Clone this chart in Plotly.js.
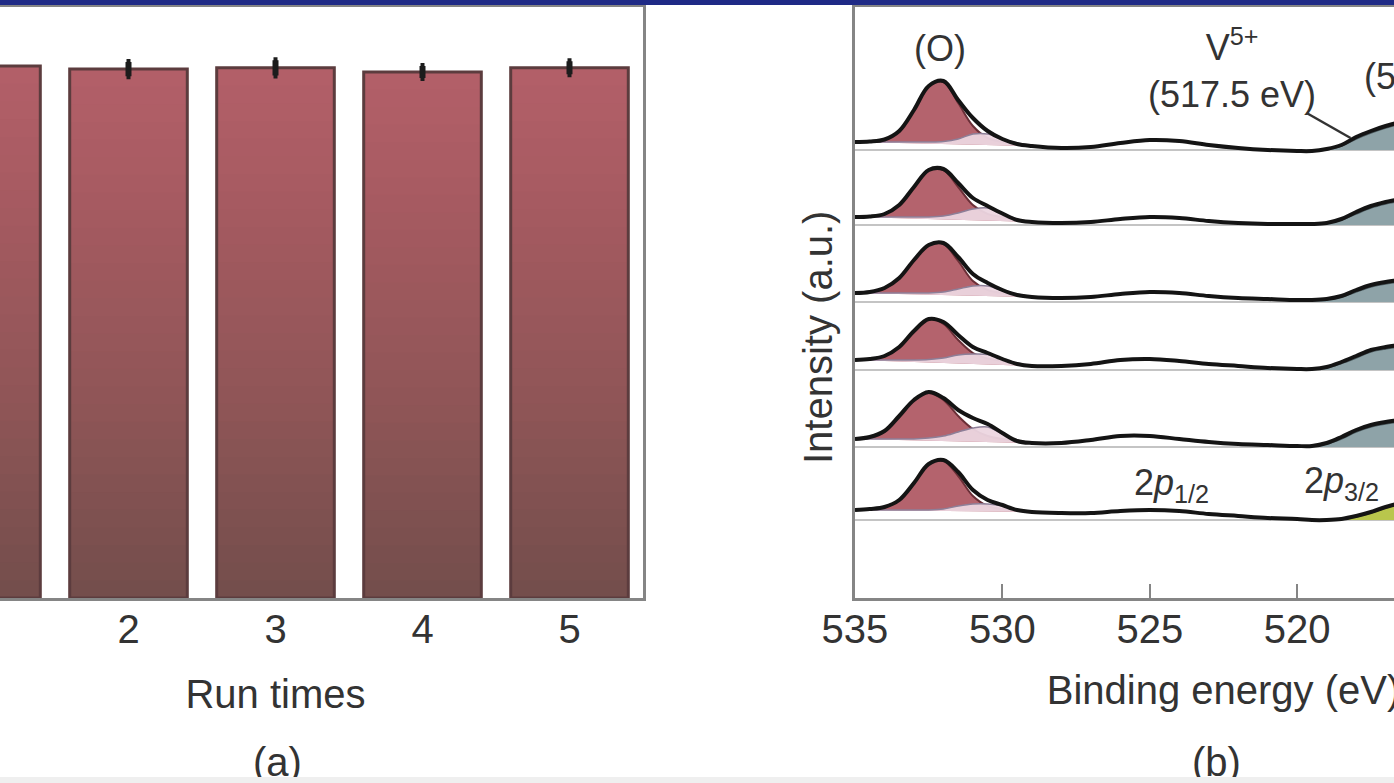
<!DOCTYPE html>
<html>
<head>
<meta charset="utf-8">
<script src="https://cdn.plot.ly/plotly-3.0.1.min.js"></script>
<style>
  html, body { margin: 0; padding: 0; overflow: hidden; background: #ffffff; width: 1394px; height: 783px; }
  #topbar { position: absolute; left: 0; top: 0; width: 1394px; height: 5px; background: #1f2a86; z-index: 5; }
  #bottombar { position: absolute; left: 0; top: 777px; width: 1394px; height: 6px; background: #efefef; z-index: 5; }
  #chart { position: absolute; left: -200px; top: 0; width: 1832px; height: 783px; }
</style>
</head>
<body>
<div id="topbar"></div>
<div id="chart"></div>
<div id="bottombar"></div>
<script>
// ---------------- Panel (a): stability over repeated runs ----------------
const runTimes = [1, 2, 3, 4, 5];
const efficiency = [90.0, 89.5, 89.7, 89.0, 89.7];      // %
const efficiencyErr = [1.0, 1.2, 1.3, 1.0, 1.1];

// ---------------- Panel (b): XPS O 1s / V 2p spectra ----------------
const energy = [535, 534.5, 534, 533.5, 533, 532.5, 532, 531.5, 531, 530.5, 530, 529.5, 529,
                528, 527, 526, 525, 524, 523, 522, 521, 520, 519.5, 519, 518.5, 518, 517.5, 517, 516.5];
const oEnergy = [535, 534.5, 534, 533.5, 533, 532.5, 532, 531.5, 531, 530.5, 530, 529.5, 529];
const vEnergy = [519.5, 519, 518.5, 518, 517.5, 517, 516.5];

// vertical offsets of the stacked spectra (a.u.)
const offsets = [45.6, 38.1, 30.5, 23.8, 15.9, 8.8];
// background line level relative to each offset
const bgLevels = [-0.8, -0.8, -0.9, -1.0, -0.8, -1.0];

const envelope1 = [0, 0.05, 0.25, 1.1, 3.2, 5.6, 6.1, 4.2, 2.4, 1.1, 0.3, -0.2, -0.4, -0.6, -0.5, -0.1, 0.2, 0.1, -0.3, -0.6, -0.8, -0.9, -0.9, -0.7, -0.3, 0.5, 1.1, 1.6, 2.0];
const envelope2 = [0, 0.05, 0.3, 1.2, 3.0, 4.7, 4.8, 3.4, 1.9, 1.1, 0.35, -0.3, -0.5, -0.6, -0.5, -0.2, 0, -0.1, -0.4, -0.6, -0.7, -0.7, -0.7, -0.6, -0.2, 0.5, 1.1, 1.5, 1.8];
const envelope3 = [0, 0.1, 0.5, 1.5, 3.3, 4.8, 5.0, 3.6, 1.9, 1.0, 0.3, -0.2, -0.4, -0.5, -0.4, -0.1, 0.1, 0, -0.3, -0.5, -0.6, -0.7, -0.7, -0.6, -0.3, 0.3, 0.8, 1.1, 1.3];
const envelope4 = [0, 0.1, 0.4, 1.3, 2.9, 4.1, 3.8, 2.5, 1.3, 0.7, 0.1, -0.4, -0.6, -0.6, -0.4, 0, 0.1, -0.1, -0.4, -0.6, -0.8, -0.9, -0.9, -0.7, -0.2, 0.4, 1.0, 1.3, 1.5];
const envelope5 = [0, 0.2, 0.8, 2.3, 3.9, 4.7, 4.1, 2.9, 2.1, 1.5, 0.6, -0.2, -0.4, -0.4, -0.1, 0.3, 0.3, 0, -0.3, -0.5, -0.6, -0.7, -0.7, -0.4, 0.2, 0.9, 1.4, 1.7, 1.9];
const envelope6 = [0, 0.1, 0.3, 1.0, 2.7, 4.6, 5.0, 3.8, 2.0, 1.0, 0.5, 0, -0.2, -0.3, -0.3, -0.1, 0, -0.1, -0.4, -0.6, -0.8, -0.9, -1.0, -1.0, -0.9, -0.6, -0.2, 0.3, 0.7];

const oMain1 = [0, 0.05, 0.25, 1.1, 3.2, 5.6, 6.0, 3.9, 1.6, 0.4, 0.0, -0.2, -0.4];
const oMain2 = [0, 0.05, 0.3, 1.2, 3.0, 4.7, 4.7, 3.0, 1.2, 0.3, 0.0, -0.3, -0.5];
const oMain3 = [0, 0.1, 0.5, 1.5, 3.3, 4.8, 4.9, 3.2, 1.2, 0.3, 0.0, -0.2, -0.4];
const oMain4 = [0, 0.1, 0.4, 1.3, 2.9, 4.1, 3.6, 2.0, 0.7, 0.15, -0.1, -0.4, -0.6];
const oMain5 = [0, 0.2, 0.8, 2.3, 3.9, 4.6, 3.9, 2.3, 1.0, 0.3, 0.0, -0.2, -0.4];
const oMain6 = [0, 0.1, 0.3, 1.0, 2.7, 4.6, 4.9, 3.4, 1.4, 0.4, 0.1, 0, -0.2];

const oShoulder1 = [0, 0, 0, 0, 0, 0, 0.05, 0.3, 0.8, 0.8, 0.3, -0.1, -0.4];
const oShoulder2 = [0, 0, 0, 0, 0, 0, 0.1, 0.4, 0.8, 0.9, 0.35, -0.2, -0.5];
const oShoulder3 = [0, 0, 0, 0, 0, 0, 0.1, 0.4, 0.7, 0.7, 0.25, -0.1, -0.4];
const oShoulder4 = [0, 0, 0, 0, 0, 0.05, 0.2, 0.5, 0.6, 0.55, 0.1, -0.3, -0.6];
const oShoulder5 = [0, 0, 0, 0, 0, 0.1, 0.3, 0.7, 1.1, 1.2, 0.5, -0.1, -0.4];
const oShoulder6 = [0, 0, 0, 0, 0, 0, 0.1, 0.4, 0.6, 0.6, 0.4, 0, -0.2];

const vComp1 = [-0.9, -0.8, -0.4, 0.3, 0.9, 1.4, 1.8];
const vComp2 = [-0.7, -0.65, -0.3, 0.3, 0.9, 1.3, 1.6];
const vComp3 = [-0.7, -0.65, -0.4, 0.1, 0.6, 0.9, 1.1];
const vComp4 = [-0.9, -0.8, -0.35, 0.2, 0.8, 1.1, 1.3];
const vComp5 = [-0.7, -0.5, 0, 0.7, 1.2, 1.5, 1.7];
const vComp6 = [-1.0, -1.0, -0.95, -0.7, -0.3, 0.2, 0.6];

const envelopes = [envelope1, envelope2, envelope3, envelope4, envelope5, envelope6];
const oMains = [oMain1, oMain2, oMain3, oMain4, oMain5, oMain6];
const oShoulders = [oShoulder1, oShoulder2, oShoulder3, oShoulder4, oShoulder5, oShoulder6];
const vComps = [vComp1, vComp2, vComp3, vComp4, vComp5, vComp6];

// ---------------- styles ----------------
const FONT = 'Liberation Sans, Arial, Helvetica, sans-serif';
const TXT = '#333333';
const AXC = '#858585';
const gradStops = [[0, [116, 78, 76]], [0.35, [142, 85, 86]], [0.75, [166, 90, 97]], [1, [178, 95, 104]]];
function gradColor(t) {
  for (let i = 1; i < gradStops.length; i++) {
    if (t <= gradStops[i][0]) {
      const a = gradStops[i - 1], b = gradStops[i];
      const f = (t - a[0]) / (b[0] - a[0]);
      const c = a[1].map((v, j) => Math.round(v + (b[1][j] - v) * f));
      return 'rgb(' + c.join(',') + ')';
    }
  }
  return 'rgb(' + gradStops[gradStops.length - 1][1].join(',') + ')';
}

const traces = [];

// gradient bars: each layer starts higher up and reaches the bar's top value,
// so later (lighter) layers cover the earlier ones without seams
const nSeg = 30;
for (let k = 0; k < nSeg; k++) {
  traces.push({
    type: 'bar', xaxis: 'x', yaxis: 'y',
    x: runTimes,
    y: efficiency.map(v => v - v * k / nSeg),
    base: efficiency.map(v => v * k / nSeg),
    width: 0.8,
    marker: { color: gradColor(k / (nSeg - 1)), line: { width: 0 } },
    hoverinfo: 'skip', showlegend: false
  });
}
// bar outline + error bars
traces.push({
  type: 'bar', xaxis: 'x', yaxis: 'y',
  x: runTimes, y: efficiency, width: 0.8,
  marker: { color: 'rgba(0,0,0,0)', line: { color: '#5c3c3e', width: 3 } },
  error_y: { type: 'data', array: efficiencyErr, visible: true, color: '#1c1c1c', thickness: 6, width: 2 },
  showlegend: false
});

// spectra
for (let s = 0; s < 6; s++) {
  const off = offsets[s];
  const bg = off + bgLevels[s];
  traces.push({
    type: 'scatter', mode: 'lines', xaxis: 'x2', yaxis: 'y2',
    x: [energy[0], 510], y: [bg, bg],
    line: { color: '#c4c4c4', width: 2 }, hoverinfo: 'skip', showlegend: false
  });
  traces.push({
    type: 'scatter', mode: 'lines', xaxis: 'x2', yaxis: 'y2',
    x: oEnergy, y: oMains[s].map(v => off + v),
    fill: 'toself', fillcolor: '#b4636d',
    line: { color: '#6a2f37', width: 2, shape: 'spline', smoothing: 1 },
    hoverinfo: 'skip', showlegend: false
  });
  traces.push({
    type: 'scatter', mode: 'lines', xaxis: 'x2', yaxis: 'y2',
    x: oEnergy, y: oShoulders[s].map(v => off + v),
    fill: 'toself', fillcolor: 'rgba(236,214,224,0.95)',
    line: { color: '#8d7f98', width: 1.5, shape: 'spline', smoothing: 1 },
    hoverinfo: 'skip', showlegend: false
  });
  traces.push({
    type: 'scatter', mode: 'lines', xaxis: 'x2', yaxis: 'y2',
    x: vEnergy, y: vEnergy.map(() => bg),
    line: { width: 0, color: 'rgba(0,0,0,0)' }, hoverinfo: 'skip', showlegend: false
  });
  traces.push({
    type: 'scatter', mode: 'lines', xaxis: 'x2', yaxis: 'y2',
    x: vEnergy, y: vComps[s].map(v => off + v),
    fill: 'tonexty', fillcolor: s === 5 ? '#b9c64c' : '#8ea3a8',
    line: { color: s === 5 ? '#6f7a2a' : '#4f5f64', width: 1.5, shape: 'spline', smoothing: 1 },
    hoverinfo: 'skip', showlegend: false
  });
  traces.push({
    type: 'scatter', mode: 'lines', xaxis: 'x2', yaxis: 'y2',
    x: energy, y: envelopes[s].map(v => off + v),
    line: { color: '#141414', width: 4, shape: 'spline', smoothing: 1 },
    showlegend: false
  });
}

const annFont = { family: FONT, size: 36, color: TXT };
const layout = {
  width: 1832, height: 783,
  margin: { l: 108, r: 40, t: 7, b: 185 },
  paper_bgcolor: '#ffffff', plot_bgcolor: '#ffffff',
  barmode: 'overlay',
  showlegend: false,
  font: { family: FONT, size: 40, color: TXT },
  xaxis: {
    domain: [0, 0.43646], anchor: 'y', range: [0.5, 5.5],
    tickvals: runTimes, ticks: '', showgrid: false, zeroline: false,
    showline: true, mirror: true, linecolor: AXC, linewidth: 3,
    ticklabelstandoff: -6,
    tickfont: { family: FONT, size: 40, color: TXT },
    title: { text: 'Run times', font: { family: FONT, size: 40, color: TXT }, standoff: 30 }
  },
  yaxis: {
    domain: [0, 1], anchor: 'x', range: [0, 100],
    showticklabels: false, ticks: '', showgrid: false, zeroline: false,
    showline: true, mirror: true, linecolor: AXC, linewidth: 3
  },
  xaxis2: {
    domain: [0.56235, 1], anchor: 'y2', range: [535, 510],
    tick0: 535, dtick: 5, ticks: 'inside', ticklen: 14, tickwidth: 2, tickcolor: AXC,
    showgrid: false, zeroline: false,
    showline: true, mirror: true, linecolor: AXC, linewidth: 3,
    ticklabelstandoff: -6,
    tickfont: { family: FONT, size: 40, color: TXT },
    title: { text: 'Binding energy (eV)', font: { family: FONT, size: 40, color: TXT }, standoff: 26 }
  },
  yaxis2: {
    domain: [0, 1], anchor: 'x2', range: [0, 59.1],
    showticklabels: false, ticks: '', showgrid: false, zeroline: false,
    showline: true, mirror: true, linecolor: AXC, linewidth: 3
  },
  annotations: [
    { xref: 'paper', yref: 'paper', x: 0.5404, y: 0.44, text: 'Intensity (a.u.)', textangle: -90,
      showarrow: false, xanchor: 'center', yanchor: 'middle', font: { family: FONT, size: 40, color: TXT } },
    { xref: 'paper', yref: 'paper', x: 0.2197, y: -0.2775, text: '(a)', showarrow: false,
      xanchor: 'center', yanchor: 'middle', font: { family: FONT, size: 40, color: TXT } },
    { xref: 'paper', yref: 'paper', x: 0.7773, y: -0.2775, text: '(b)', showarrow: false,
      xanchor: 'center', yanchor: 'middle', font: { family: FONT, size: 40, color: TXT } },
    { xref: 'x2', yref: 'y2', x: 532.12, y: 55.0, text: '(O)', showarrow: false,
      xanchor: 'center', yanchor: 'middle', font: annFont },
    { xref: 'x2', yref: 'y2', x: 522.22, y: 53.0, text: 'V<sup>5+</sup><br>(517.5 eV)', showarrow: false,
      xanchor: 'center', yanchor: 'middle', font: annFont },
    { xref: 'x2', yref: 'y2', x: 514.9, y: 54.8, text: 'V<sup>4+</sup><br>(516.3 eV)', showarrow: false,
      xanchor: 'center', yanchor: 'middle', font: annFont },
    { xref: 'x2', yref: 'y2', x: 524.25, y: 11.3, text: '2<i>p</i><sub>1/2</sub>', showarrow: false,
      xanchor: 'center', yanchor: 'middle', font: annFont },
    { xref: 'x2', yref: 'y2', x: 518.5, y: 11.5, text: '2<i>p</i><sub>3/2</sub>', showarrow: false,
      xanchor: 'center', yanchor: 'middle', font: annFont }
  ],
  shapes: [
    { type: 'line', xref: 'x2', yref: 'y2', x0: 519.68, y0: 48.5, x1: 518.19, y1: 46.0,
      line: { color: '#333333', width: 2.5 } }
  ]
};

Plotly.newPlot('chart', traces, layout, { staticPlot: true, displayModeBar: false });
</script>
</body>
</html>
